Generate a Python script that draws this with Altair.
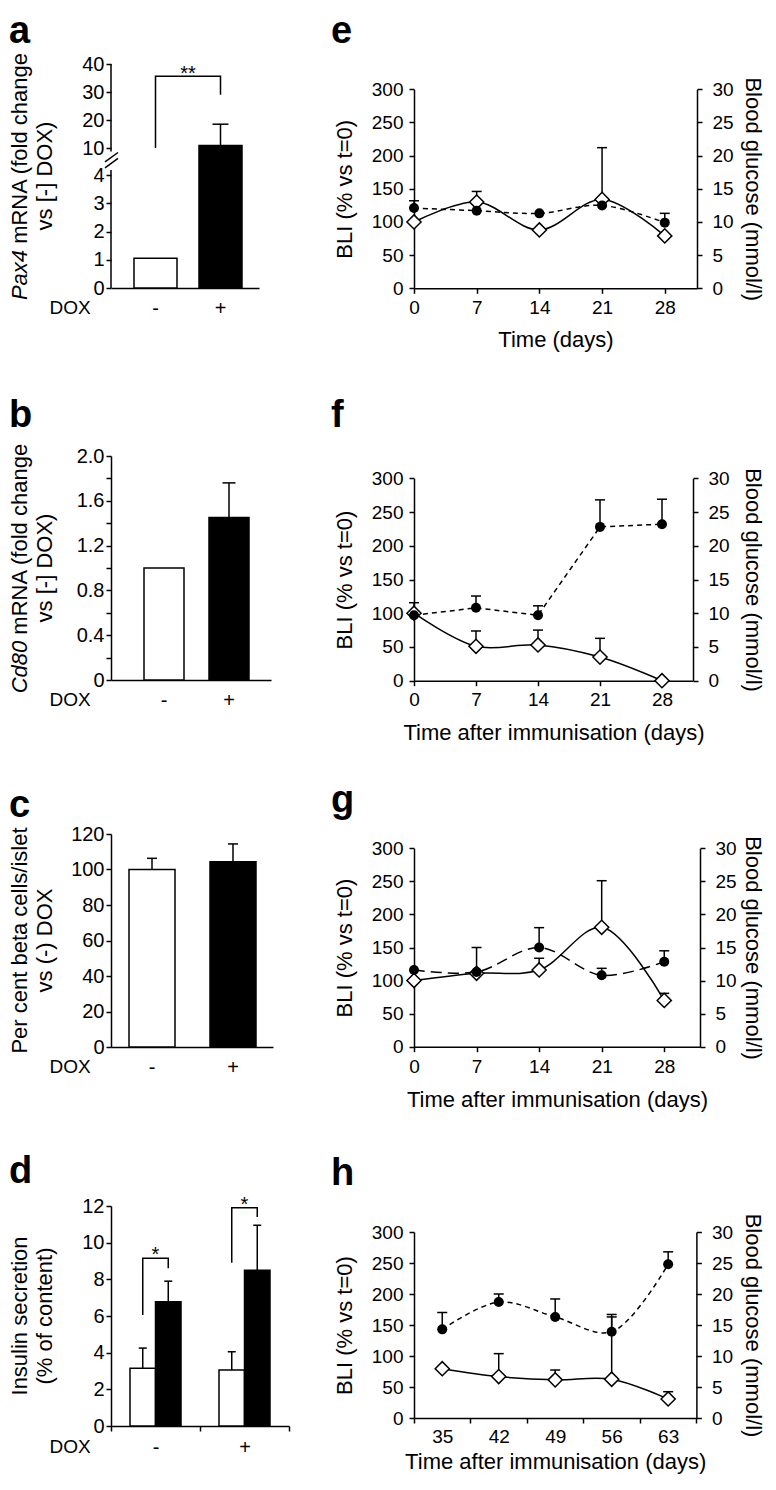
import altair as alt
import pandas as pd

FONT = "Liberation Sans"
LW = 1.5
TICK_FS = 19
LEFT_TICK_FS = 20
TITLE_FS = 22
LETTER_FS = 38
STAR_FS = 20

# ---------------- values ----------------
dox = ["-", "+"]

a_vals = [1.05, 10.9]
a_errs = [None, 18.5]
a_yticks = [0, 1, 2, 3, 4, 10, 20, 30, 40]
a_bracket_x = ["-", "-", "+", "+"]
a_bracket_y = [10, 35.6, 35.6, 29]

b_vals = [1.0, 1.45]
b_errs = [None, 1.76]
b_yticks = [0, 0.2, 0.4, 0.6, 0.8, 1.0, 1.2, 1.4, 1.6, 1.8, 2.0]

c_vals = [100.0, 104.4]
c_errs = [106.3, 114.4]
c_yticks = [0, 20, 40, 60, 80, 100, 120]

d_conditions = ["basal", "stimulated"]
d_group = ["-", "-", "+", "+"]
d_cond = ["basal", "stimulated", "basal", "stimulated"]
d_vals = [3.15, 6.78, 3.05, 8.5]
d_errs = [4.25, 7.9, 4.05, 10.95]
d_bracket_group = ["-"] * 4 + ["+"] * 4
d_bracket_cond = ["basal", "basal", "stimulated", "stimulated"] * 2
d_bracket_y = [6.05, 9.15, 9.15, 8.6, 8.9, 11.9, 11.9, 11.4]
d_yticks = [0, 2, 4, 6, 8, 10, 12]

days = [0, 7, 14, 21, 28]
e_bli = [100, 130, 88, 134, 79]
e_bli_err = [None, 146, None, 212, None]
e_glu = [12.1, 11.7, 11.3, 12.5, 9.9]
e_glu_err = [13.2, None, None, None, 11.3]

f_bli = [100, 51, 53, 35, 0]
f_bli_err = [115.6, 73.7, 75, 62.8, None]
f_glu = [9.7, 10.8, 9.7, 22.8, 23.2]
f_glu_err = [None, 12.55, 11.1, 26.8, 26.9]

g_bli = [100, 111, 116, 180.5, 70]
g_bli_err = [None, 150, 133.7, 251, 80.7]
g_glu = [11.6, 11.3, 15.0, 10.8, 12.85]
g_glu_err = [None, None, 18.0, 11.85, 14.5]

h_days = [35, 42, 49, 56, 63]
h_bli = [79.5, 66.8, 61.5, 62.5, 30.7]
h_bli_err = [None, 103.8, 77.4, 163, 42.4]
h_glu = [14.3, 18.7, 16.3, 13.9, 24.8]
h_glu_err = [17.0, 20.0, 19.2, 16.7, 26.8]

bli_ticks = [0, 50, 100, 150, 200, 250, 300]
glu_ticks = [0, 5, 10, 15, 20, 25, 30]

# ---------------- page layout (pixels) ----------------
ROWS = [8, 385, 770, 1140, 1474]
COL_L, COL_M, COL_R = 8, 326, 764
LX0, RX0 = 110, 413
RTITLE_X = 751

ONE = pd.DataFrame({"k": [0]})

# Arial / Liberation Sans advance widths (per 1000 em)
EM = {" ": 278, "(": 333, ")": 333, "P": 667, "a": 556, "x": 500, "4": 556,
      "m": 833, "R": 722, "N": 722, "A": 667, "f": 278, "o": 556, "l": 222,
      "d": 556, "c": 500, "h": 556, "n": 556, "g": 556, "e": 556, "C": 722,
      "8": 556, "0": 556}


def tw(s, fs=TITLE_FS):
    return sum(EM.get(ch, 556) for ch in s) * fs / 1000.0


def frame(x0, top, r0, r1, c0, c1):
    return alt.Chart(ONE).mark_rect(fillOpacity=0, strokeOpacity=0).encode(
        x=alt.value(c0 - x0), x2=alt.value(c1 - x0),
        y=alt.value(r0 - top), y2=alt.value(r1 - top))


LETTER_BASE = {"a": 43, "b": 427, "c": 817, "d": 1183,
               "e": 43, "f": 427, "g": 812, "h": 1185}


def letter(txt, x0, top, px):
    return alt.Chart(pd.DataFrame({"t": [txt]})).mark_text(
        font=FONT, fontSize=LETTER_FS, fontWeight="bold", align="left",
        baseline="alphabetic", color="black").encode(
        text="t:N", x=alt.value(px - x0), y=alt.value(LETTER_BASE[txt] - top))


def vtext(txt, x, y, italic=False, align="center"):
    return alt.Chart(pd.DataFrame({"t": [txt.strip()]})).mark_text(
        font=FONT, fontSize=TITLE_FS, angle=270, align=align, baseline="middle",
        fontStyle="italic" if italic else "normal", color="black").encode(
        text="t:N", x=alt.value(x), y=alt.value(y))


def vlines(x0, H, lines, xs):
    out = []
    yc = H / 2.0
    for segs, px in zip(lines, xs):
        x = px - x0
        if len(segs) == 1:
            out.append(vtext(segs[0][0], x, yc, segs[0][1], "center"))
        else:
            total = sum(tw(t) for t, _ in segs)
            y = yc + total / 2.0
            for t, it in segs:
                out.append(vtext(t, x, y, it, "left"))
                y -= tw(t)
    return out


def band_params(W, s1, bw, st, n=2):
    pi = 1 - bw / st
    po = (W / st - n + pi) / 2
    al = s1 / (W - st * (n - pi))
    return pi, po, al


def dox_axis(tick_band=False):
    kw = dict(title="DOX", titleX=68.5 - LX0, titleAngle=0, titleAlign="center",
              titleBaseline="top", titleFontSize=19, labelAngle=0,
              labelFontSize=20, labelBaseline="top")
    if tick_band:
        kw.update(tickBand="extent", ticks=True, tickSize=5, labelPadding=6.5, titleY=11.5)
    else:
        kw.update(ticks=False, tickSize=0, labelPadding=10, titleY=10)
    return alt.Axis(**kw)


def left_yaxis(values, domain=True, label_expr=None):
    kw = dict(values=values, title=None, tickSize=5, labelPadding=2,
              labelFontSize=LEFT_TICK_FS, domain=domain)
    if label_expr:
        kw["labelExpr"] = label_expr
    return alt.Axis(**kw)


def bar_panel(name, row, top, H, W, s1, bw, st, vals, errs, yscale, yaxis,
              title_lines, cap, extra=None):
    pi, po, al = band_params(W, s1, bw, st)
    X = alt.X("dox:N", scale=alt.Scale(domain=dox, paddingInner=pi, paddingOuter=po, align=al),
              axis=dox_axis())

    def Y(f):
        return alt.Y(f + ":Q", scale=yscale, axis=yaxis)

    df = pd.DataFrame({"dox": dox, "v": vals})
    edf = pd.DataFrame({"dox": [d for d, e in zip(dox, errs) if e is not None],
                        "v": [v for v, e in zip(vals, errs) if e is not None],
                        "e": [e for e in errs if e is not None]})
    layers = [frame(LX0, top, ROWS[row], ROWS[row + 1], COL_L, COL_M),
              letter(name, LX0, top, 8)]
    layers += vlines(LX0, H, title_lines, [19, 44])
    layers.append(alt.Chart(df).mark_bar(stroke="black", strokeWidth=LW).encode(
        x=X, y=Y("v"),
        fill=alt.Fill("dox:N", scale=alt.Scale(domain=dox, range=["white", "black"]), legend=None)))
    layers.append(alt.Chart(edf).mark_rule(color="black", strokeWidth=LW).encode(
        x=X, y=Y("v"), y2="e:Q"))
    layers.append(alt.Chart(edf).mark_tick(color="black", thickness=LW, size=cap,
                                           orient="horizontal", opacity=1).encode(x=X, y=Y("e")))
    if extra:
        layers += extra(X, Y, s1, bw, st)
    return alt.layer(*layers).properties(width=W, height=H)


# ---------------- panel a ----------------
ys_a = alt.Scale(domain=[0, 4, 10, 40], range=[224, 111, 84, 0], nice=False, zero=False)
ax_a = left_yaxis(a_yticks, domain=False)


def a_extra(X, Y, s1, bw, st):
    br = pd.DataFrame({"dox": a_bracket_x, "y": a_bracket_y, "o": [0, 1, 2, 3]})
    out = [alt.Chart(br).mark_line(color="black", strokeWidth=LW).encode(
        x=X, y=Y("y"), order="o:Q")]
    mid = s1 + bw / 2 + st / 2
    out.append(alt.Chart(pd.DataFrame({"y": [max(a_bracket_y)], "t": ["**"]})).mark_text(
        font=FONT, fontSize=STAR_FS, baseline="alphabetic", align="center", dy=4,
        color="black").encode(x=alt.value(mid), y=Y("y"), text="t:N"))
    seg = pd.DataFrame({"y0": [0, 9.2], "y1": [5.1, 40]})
    out.append(alt.Chart(seg).mark_rule(color="black", strokeWidth=LW).encode(
        x=alt.value(0), y=Y("y0"), y2="y1:Q"))
    brk = pd.DataFrame({"y0": [5.6, 6.9], "y1": [7.7, 9.0]})
    out.append(alt.Chart(brk).mark_rule(color="black", strokeWidth=LW).encode(
        x=alt.value(-6), x2=alt.value(7), y=Y("y0"), y2="y1:Q"))
    return out


pa = bar_panel("a", 0, 64, 224, 148, 23, 43, 65, a_vals, a_errs, ys_a, ax_a,
               [[("Pax4 ", True), ("mRNA (fold change", False)], [("vs [-] DOX)", False)]],
               16, a_extra)

# ---------------- panel b ----------------
ys_b = alt.Scale(domain=[0, 2.0], nice=False)
ax_b = left_yaxis(b_yticks, label_expr="datum.value == 0 ? '0' : (round(datum.value * 10) % 4 == 0 ? format(datum.value, '.1f') : '')")
pb = bar_panel("b", 1, 456, 224, 160, 33, 40, 65, b_vals, b_errs, ys_b, ax_b,
               [[("Cd80 ", True), ("mRNA (fold change", False)], [("vs [-] DOX)", False)]], 13)

# ---------------- panel c ----------------
ys_c = alt.Scale(domain=[0, 120], nice=False)
ax_c = left_yaxis(c_yticks)
pc = bar_panel("c", 2, 834, 213, 162, 18, 46, 81, c_vals, c_errs, ys_c, ax_c,
               [[("Per cent beta cells/islet", False)], [("vs (-) DOX", False)]], 10)

# ---------------- panel d ----------------
top_d, H_d, W_d = 1206, 220, 178
ys_d = alt.Scale(domain=[0, 12], nice=False)
ax_d = left_yaxis(d_yticks)
Xd = alt.X("grp:N", scale=alt.Scale(domain=dox, paddingInner=0, paddingOuter=0),
           axis=dox_axis(tick_band=True))
XOd = alt.XOffset("cond:N", scale=alt.Scale(domain=d_conditions, paddingInner=0, paddingOuter=0.745))


def Yd(f):
    return alt.Y(f + ":Q", scale=ys_d, axis=ax_d)


d_df = pd.DataFrame({"grp": d_group, "cond": d_cond, "v": d_vals, "e": d_errs})
d_br = pd.DataFrame({"grp": d_bracket_group, "cond": d_bracket_cond, "y": d_bracket_y,
                     "o": list(range(8))})
d_star = pd.DataFrame({"grp": dox, "y": [max(d_bracket_y[:4]), max(d_bracket_y[4:])], "t": ["*", "*"]})
pd_ = alt.layer(
    frame(LX0, top_d, ROWS[3], ROWS[4], COL_L, COL_M),
    letter("d", LX0, top_d, 8),
    *vlines(LX0, H_d, [[("Insulin secretion", False)], [("(% of content)", False)]], [19, 44]),
    alt.Chart(d_df).mark_bar(stroke="black", strokeWidth=LW).encode(
        x=Xd, xOffset=XOd, y=Yd("v"),
        fill=alt.Fill("cond:N", scale=alt.Scale(domain=d_conditions, range=["white", "black"]), legend=None)),
    alt.Chart(d_df).mark_rule(color="black", strokeWidth=LW).encode(x=Xd, xOffset=XOd, y=Yd("v"), y2="e:Q"),
    alt.Chart(d_df).mark_tick(color="black", thickness=LW, size=8, orient="horizontal", opacity=1).encode(
        x=Xd, xOffset=XOd, y=Yd("e")),
    alt.Chart(d_br).mark_line(color="black", strokeWidth=LW).encode(
        x=Xd, xOffset=XOd, y=Yd("y"), order="o:Q", detail="grp:N"),
    alt.Chart(d_star).mark_text(font=FONT, fontSize=STAR_FS, baseline="alphabetic", align="center",
                                dy=3, color="black").encode(x=Xd, y=Yd("y"), text="t:N"),
).properties(width=W_d, height=H_d)


# ---------------- right panels ----------------
def series_df(xs, vals, errs):
    df = pd.DataFrame({"day": xs, "v": vals})
    edf = pd.DataFrame({"day": [x for x, e in zip(xs, errs) if e is not None],
                        "v": [v for v, e in zip(vals, errs) if e is not None],
                        "e": [e for e in errs if e is not None]})
    return df, edf


def right_panel(name, row, view_top, plot_top, bottom, W, xs, bli, bli_err, glu, glu_err,
                xtitle, xmax=None, dash=(5, 4), bli_interp="catmull-rom",
                glu_interp="catmull-rom", xlab_off=19.5, xtitle_off=52):
    H = bottom - view_top
    off = plot_top - view_top
    if xmax is None:
        xaxis = alt.Axis(title=xtitle, titleX=W / 2, titleY=xtitle_off, titleBaseline="middle",
                         titleAngle=0, tickBand="extent", tickSize=5, labelPadding=xlab_off - 5 - 9.5,
                         labelAngle=0, labelFontSize=TICK_FS)
        X = alt.X("day:O", scale=alt.Scale(type="band", domain=xs, paddingInner=0, paddingOuter=0),
                  axis=xaxis)
    else:
        xaxis = alt.Axis(values=xs, title=xtitle, titleX=W / 2, titleY=xtitle_off,
                         titleBaseline="middle", titleAngle=0, tickSize=5,
                         labelPadding=xlab_off - 5 - 9.5, labelFlush=False,
                         labelFontSize=TICK_FS)
        X = alt.X("day:Q", scale=alt.Scale(domain=[0, xmax], nice=False, zero=False), axis=xaxis)

    ymid = (H + off) / 2
    yl_axis = alt.Axis(values=bli_ticks, title="BLI (% vs t=0)", titleX=-70, titleY=ymid,
                       titleAngle=270, titleAlign="center", titleBaseline="middle",
                       tickSize=5, labelPadding=6, labelFontSize=TICK_FS)
    yr_axis = alt.Axis(orient="right", values=glu_ticks, title="Blood glucose (mmol/l)",
                       titleX=RTITLE_X - RX0 - W, titleY=ymid, titleAngle=90, titleAlign="center",
                       titleBaseline="middle", tickSize=5, labelPadding=10, labelFontSize=TICK_FS)
    ysl = alt.Scale(domain=[0, 300], range=[H, off], nice=False)
    ysr = alt.Scale(domain=[0, 30], range=[H, off], nice=False)

    def YL(f):
        return alt.Y(f + ":Q", scale=ysl, axis=yl_axis)

    def YR(f):
        return alt.Y(f + ":Q", scale=ysr, axis=yr_axis)

    bdf, bedf = series_df(xs, bli, bli_err)
    gdf, gedf = series_df(xs, glu, glu_err)

    bli_layer = alt.layer(
        frame(RX0, view_top, ROWS[row], ROWS[row + 1], COL_M, COL_R),
        letter(name, RX0, view_top, 330),
        alt.Chart(bdf).mark_line(color="black", strokeWidth=LW, interpolate=bli_interp).encode(x=X, y=YL("v")),
        alt.Chart(bedf).mark_rule(color="black", strokeWidth=LW).encode(x=X, y=YL("v"), y2="e:Q"),
        alt.Chart(bedf).mark_tick(color="black", thickness=LW, size=10, orient="horizontal",
                                  opacity=1).encode(x=X, y=YL("e")),
        alt.Chart(bdf).mark_point(shape="diamond", size=200, filled=True, fill="white",
                                  stroke="black", strokeWidth=LW, opacity=1).encode(x=X, y=YL("v")),
    )
    glu_layer = alt.layer(
        alt.Chart(gdf).mark_line(color="black", strokeWidth=LW, strokeDash=list(dash),
                                 interpolate=glu_interp).encode(x=X, y=YR("v")),
        alt.Chart(gedf).mark_rule(color="black", strokeWidth=LW).encode(x=X, y=YR("v"), y2="e:Q"),
        alt.Chart(gedf).mark_tick(color="black", thickness=LW, size=10, orient="horizontal",
                                  opacity=1).encode(x=X, y=YR("e")),
        alt.Chart(gdf).mark_point(shape="circle", size=100, filled=True, color="black",
                                  opacity=1).encode(x=X, y=YR("v")),
    )
    return alt.layer(bli_layer, glu_layer).resolve_scale(y="independent").properties(width=W, height=H)


# view tops equal the left panel's plot top in each row
pe = right_panel("e", 0, 64, 89.3, 288.3, 283, days, e_bli, e_bli_err, e_glu, e_glu_err,
                 "Time (days)", xmax=31.6, xlab_off=19.5, xtitle_off=51)
pf = right_panel("f", 1, 456, 478.3, 680.7, 279, days, f_bli, f_bli_err, f_glu, f_glu_err,
                 "Time after immunisation (days)", xmax=31.5, glu_interp="linear",
                 xlab_off=19.5, xtitle_off=52)
pg = right_panel("g", 2, 834, 848.3, 1046.7, 286, days, g_bli, g_bli_err, g_glu, g_glu_err,
                 "Time after immunisation (days)", xmax=32.0, dash=(11, 6),
                 xlab_off=20, xtitle_off=53)
ph = right_panel("h", 3, 1206, 1232, 1418, 282.4, h_days, h_bli, h_bli_err, h_glu, h_glu_err,
                 "Time after immunisation (days)", xmax=None, xlab_off=19, xtitle_off=43)

rows = [alt.hconcat(pa, pe, spacing=0), alt.hconcat(pb, pf, spacing=0),
        alt.hconcat(pc, pg, spacing=0), alt.hconcat(pd_, ph, spacing=0)]

chart = alt.vconcat(*rows, spacing=0).properties(padding=0).configure(
    font=FONT).configure_view(strokeWidth=0).configure_axis(
    domainColor="black", tickColor="black", labelColor="black", titleColor="black",
    domainWidth=LW, tickWidth=LW, grid=False, labelFont=FONT, titleFont=FONT,
    titleFontWeight="normal", labelFontSize=TICK_FS, titleFontSize=TITLE_FS)

chart.save("out.html", embed_options={"renderer": "svg", "actions": False})
